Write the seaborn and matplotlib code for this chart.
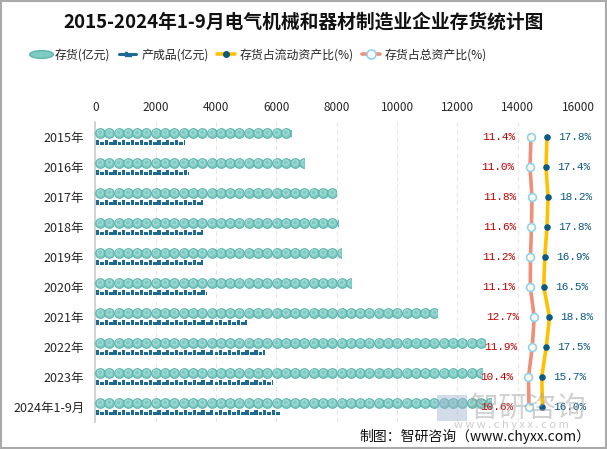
import numpy as np
import pandas as pd
import matplotlib
matplotlib.use("Agg")
import matplotlib.pyplot as plt
import seaborn as sns
from matplotlib.lines import Line2D
from matplotlib.path import Path
from matplotlib.patches import Rectangle
import matplotlib.transforms as mtransforms

# ---------------- data ----------------
years = ["2015年", "2016年", "2017年", "2018年", "2019年", "2020年",
         "2021年", "2022年", "2023年", "2024年1-9月"]
inventory = [6480, 6930, 7970, 8040, 8140, 8470, 11320, 12920, 12810, 13100]
finished = [2970, 3100, 3560, 3580, 3580, 3700, 5020, 5630, 5900, 6150]
pct_current = [17.8, 17.4, 18.2, 17.8, 16.9, 16.5, 18.8, 17.5, 15.7, 16.0]
pct_total = [11.4, 11.0, 11.8, 11.6, 11.2, 11.1, 12.7, 11.9, 10.4, 10.6]
xticks = [0, 2000, 4000, 6000, 8000, 10000, 12000, 14000, 16000]

title = "2015-2024年1-9月电气机械和器材制造业企业存货统计图"
legend_labels = ["存货(亿元)", "产成品(亿元)", "存货占流动资产比(%)", "存货占总资产比(%)"]

# ---------------- style ----------------
sns.set_theme(style="white")
plt.rcParams['font.family'] = ['Noto Sans CJK SC', 'DejaVu Sans']
plt.rcParams['axes.unicode_minus'] = False

TEAL = "#7ecbc4"
TEAL_E = "#5db5ad"
DARKBLUE = "#1d6b92"
GOLD = "#ffc000"
SALMON = "#ef8f7a"
RED = "#c00000"
LBLUE = "#8fd3f0"
NAVY = "#0b5a82"

fig = plt.figure(figsize=(6.07, 4.49), dpi=100)
fig.patch.set_facecolor("white")
ax = fig.add_axes([95.4 / 607, 1 - 422 / 449, (578 - 95.4) / 607, (422 - 122) / 449])
ax2 = ax.twiny()

n = len(years)
ypos = np.arange(n)
df = pd.DataFrame({"year": years, "inv": inventory, "fin": finished,
                   "cur": pct_current, "tot": pct_total, "y": ypos})

# invisible bars used as clipping regions for the pictorial bars
inv_off, fin_off = -0.15, 0.17
inv_h, fin_h = 0.34, 0.22
inv_bars = ax.barh(ypos + inv_off, inventory, height=inv_h, color="none", edgecolor="none")
fin_bars = ax.barh(ypos + fin_off, finished, height=fin_h, color="none", edgecolor="none")

step = 308.0
for i, (v, rect) in enumerate(zip(inventory, inv_bars)):
    xs = np.arange(step / 2, v + step / 2, step)
    sc = ax.scatter(xs, np.full_like(xs, i + inv_off), s=48, marker="o",
                    facecolor=TEAL, edgecolor=TEAL_E, linewidth=0.8, zorder=3)
    sc.set_clip_path(rect)
    sc2 = ax.scatter(xs, np.full_like(xs, i + inv_off), s=14, marker="o",
                     facecolor="none", edgecolor="#a9ddd8", linewidth=0.8, zorder=4)
    sc2.set_clip_path(rect)

# small "fm"-like glyph for finished goods
glyph = Path([(-1.0, -0.6), (-0.2, -0.6), (-0.2, 0.6), (-1.0, 0.6), (-1.0, -0.6),
              (0.05, -0.6), (1.0, -0.6), (1.0, 0.1), (0.05, 0.1), (0.05, -0.6)],
             [Path.MOVETO, Path.LINETO, Path.LINETO, Path.LINETO, Path.CLOSEPOLY,
              Path.MOVETO, Path.LINETO, Path.LINETO, Path.LINETO, Path.CLOSEPOLY])
fstep = 292.0
for i, (v, rect) in enumerate(zip(finished, fin_bars)):
    xs = np.arange(fstep / 2, v + fstep / 2, fstep)
    sc = ax.scatter(xs, np.full_like(xs, i + fin_off), s=34, marker=glyph,
                    facecolor=DARKBLUE, edgecolor="none", zorder=3)
    sc.set_clip_path(rect)

ax.set_xlim(0, 16000)
ax.set_ylim(n - 0.5, -0.5)
ax.set_xticks(xticks)
ax.set_xticklabels([str(t) for t in xticks], fontsize=8.5)
ax.xaxis.tick_top()
ax.xaxis.set_label_position("top")
ax.tick_params(axis="x", length=0, pad=6, labelbottom=False, labeltop=True)
ax.set_yticks(ypos)
ax.set_yticklabels(years, fontsize=9)
ax.tick_params(axis="y", length=0, pad=8)
ax.grid(axis="x", color="#e6e6e6", linestyle=(0, (4, 3)), linewidth=0.8)
ax.set_axisbelow(True)
for s in ["top", "right", "bottom"]:
    ax.spines[s].set_visible(False)
ax.spines["left"].set_color("#cccccc")
ax.spines["left"].set_linewidth(1.2)
ax.set_xlabel("")
ax.set_ylabel("")

# ---------------- percentage lines on hidden twin axis ----------------
ax2.set_xlim(-162.8, 30.2)
ax2.set_ylim(n - 0.5, -0.5)
sns.lineplot(data=df, x="tot", y="y", sort=False, estimator=None, orient="y",
             color=SALMON, linewidth=2.6, ax=ax2, zorder=5)
sns.lineplot(data=df, x="cur", y="y", sort=False, estimator=None, orient="y",
             color=GOLD, linewidth=2.6, ax=ax2, zorder=5)
ax2.scatter(df["tot"], df["y"], s=32, facecolor="#fffbe8", edgecolor=LBLUE,
            linewidth=1.2, zorder=6)
ax2.scatter(df["cur"], df["y"], s=14, facecolor=NAVY, edgecolor=NAVY, zorder=6)
ax2.set_xlim(-162.8, 30.2)
ax2.set_ylim(n - 0.5, -0.5)
ax2.axis("off")
for i in range(n):
    ax2.annotate(f"{pct_total[i]:.1f}%", (pct_total[i], i), xytext=(-11, 0),
                 textcoords="offset points", ha="right", va="center",
                 color=RED, fontsize=8, family="Liberation Mono", zorder=7)
    ax2.annotate(f"{pct_current[i]:.1f}%", (pct_current[i], i), xytext=(8, 0),
                 textcoords="offset points", ha="left", va="center",
                 color=NAVY, fontsize=8, family="Liberation Mono", zorder=7)

# ---------------- title & legend ----------------
fig.text(0.5, 1 - 22 / 449, title, ha="center", va="center",
         fontsize=13.5, fontweight="bold", color="#111111")

ell = Path.unit_circle().transformed(mtransforms.Affine2D().scale(1.0, 0.33))
handles = [
    Line2D([], [], linestyle="none", marker=ell, markersize=17,
           markerfacecolor=TEAL, markeredgecolor=TEAL_E),
    Line2D([], [], color=DARKBLUE, linewidth=2.2, marker=glyph, markersize=5,
           markerfacecolor=DARKBLUE),
    Line2D([], [], color=GOLD, linewidth=2.6, marker="o", markersize=4,
           markerfacecolor=NAVY, markeredgecolor=NAVY),
    Line2D([], [], color=SALMON, linewidth=2.6, marker="o", markersize=6.5,
           markerfacecolor="white", markeredgecolor=LBLUE, markeredgewidth=1.2),
]
fig.legend(handles, legend_labels, loc="center left", bbox_to_anchor=(32 / 607, 1 - 55 / 449),
           ncol=4, frameon=False, fontsize=8.6, handlelength=1.5,
           columnspacing=0.7, handletextpad=0.4, borderaxespad=0, borderpad=0)

# ---------------- watermark & source ----------------
fig.text(470 / 607, 1 - 409 / 449, "智研咨询", ha="left", va="center",
         fontsize=21, color="#9a9a9a", alpha=0.45, zorder=10)
fig.patches.append(Rectangle((437 / 607, 1 - 421 / 449), 30 / 607, 26 / 449,
                             transform=fig.transFigure, facecolor="#9fb4d0",
                             alpha=0.45, edgecolor="none", zorder=10))
fig.text(511 / 607, 1 - 425 / 449, "w w w . c h y x x . c o m", ha="center", va="center",
         fontsize=8, color="#aaaaaa", alpha=0.6, zorder=10)
fig.text(590 / 607, 1 - 436 / 449, "制图：智研咨询（www.chyxx.com）", ha="right",
         va="center", fontsize=10, color="#111111")

# figure border
fig.patches.append(Rectangle((0.001, 0.002), 0.997, 0.996, transform=fig.transFigure,
                             facecolor="none", edgecolor="#aaaaaa", linewidth=1.5))

fig.savefig("out.png", dpi=100)
